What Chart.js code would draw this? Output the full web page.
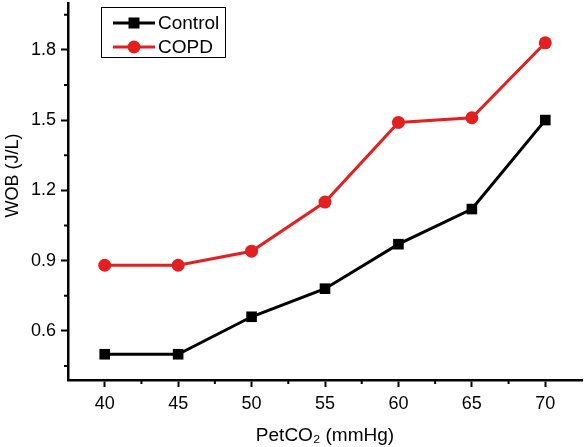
<!DOCTYPE html>
<html>
<head>
<meta charset="utf-8">
<script src="https://cdn.jsdelivr.net/npm/chart.js@4.4.1/dist/chart.umd.min.js"></script>
<style>
html,body{margin:0;padding:0;background:#fff;}
#wrap{width:586px;height:447px;}
</style>
</head>
<body>
<div id="wrap"><canvas id="c" width="586" height="447"></canvas></div>
<script>
const categories = [40, 45, 50, 55, 60, 65, 70];
const controlValues = [0.50, 0.50, 0.66, 0.78, 0.97, 1.12, 1.50];
const copdValues = [0.88, 0.88, 0.94, 1.15, 1.49, 1.51, 1.83];
const xTicks = [40, 45, 50, 55, 60, 65, 70];
const xMinorTicks = [42.5, 47.5, 52.5, 57.5, 62.5, 67.5];
const yTicks = [0.6, 0.9, 1.2, 1.5, 1.8];
const yMinorTicks = [0.45, 0.75, 1.05, 1.35, 1.65, 1.95];
const seriesNames = ['Control', 'COPD'];

const FONT = '"Liberation Sans", Arial, Helvetica, sans-serif';
const RED = '#e3201f';

const extras = {
  id: 'extras',
  afterDraw(chart) {
    const ctx = chart.ctx;
    const xs = chart.scales.x, ys = chart.scales.y;
    const a = chart.chartArea;
    ctx.save();
    ctx.strokeStyle = '#000';
    ctx.lineWidth = 2;
    ctx.beginPath();
    yMinorTicks.forEach(v => {
      const p = ys.getPixelForValue(v);
      ctx.moveTo(a.left, p); ctx.lineTo(a.left - 4, p);
    });
    xMinorTicks.forEach(v => {
      const p = xs.getPixelForValue(v);
      ctx.moveTo(p, a.bottom); ctx.lineTo(p, a.bottom + 4);
    });
    ctx.stroke();
    ctx.fillStyle = '#000';
    ctx.font = '18px ' + FONT;
    ctx.textAlign = 'center';
    ctx.textBaseline = 'middle';
    ctx.translate(13, (a.top + a.bottom) / 2 - 16);
    ctx.rotate(-Math.PI / 2);
    ctx.fillText('WOB (J/L)', 0, 0);
    ctx.restore();

    ctx.save();
    const bx = 101, by = 7, bw = 124, bh = 50;
    ctx.strokeStyle = '#000';
    ctx.lineWidth = 1;
    ctx.strokeRect(bx + 0.5, by + 0.5, bw, bh);
    chart.data.datasets.forEach((ds, i) => {
      const yy = by + 16 + i * 24;
      ctx.strokeStyle = ds.borderColor;
      ctx.lineWidth = 3;
      ctx.beginPath();
      ctx.moveTo(bx + 12, yy); ctx.lineTo(bx + 54, yy);
      ctx.stroke();
      ctx.fillStyle = ds.pointBackgroundColor;
      ctx.beginPath();
      if (ds.pointStyle === 'rect') {
        ctx.rect(bx + 33 - 5.5, yy - 5.5, 11, 11);
      } else {
        ctx.arc(bx + 33, yy, 6.5, 0, Math.PI * 2);
      }
      ctx.fill();
      ctx.fillStyle = '#000';
      ctx.font = '19px ' + FONT;
      ctx.textAlign = 'left';
      ctx.textBaseline = 'middle';
      ctx.fillText(ds.label, bx + 57, yy + 1);
    });
    ctx.restore();
  }
};

new Chart(document.getElementById('c'), {
  type: 'line',
  data: {
    datasets: [
      {
        label: seriesNames[0],
        data: categories.map((c, i) => ({x: c, y: controlValues[i]})),
        borderColor: '#000',
        backgroundColor: '#000',
        pointBackgroundColor: '#000',
        pointBorderColor: '#000',
        pointStyle: 'rect',
        pointRadius: 7.5,
        pointBorderWidth: 0,
        borderWidth: 3,
        tension: 0
      },
      {
        label: seriesNames[1],
        data: categories.map((c, i) => ({x: c, y: copdValues[i]})),
        borderColor: RED,
        backgroundColor: RED,
        pointBackgroundColor: RED,
        pointBorderColor: RED,
        pointStyle: 'circle',
        pointRadius: 6.5,
        pointBorderWidth: 0,
        borderWidth: 3,
        tension: 0
      }
    ]
  },
  options: {
    responsive: false,
    animation: false,
    devicePixelRatio: 1,
    layout: {autoPadding: false, padding: {left: 0, right: 4, top: 3, bottom: 0}},
    plugins: {legend: {display: false}, tooltip: {enabled: false}},
    scales: {
      x: {
        type: 'linear',
        min: 37.5,
        max: 72.5,
        afterBuildTicks: s => { s.ticks = xTicks.map(v => ({value: v})); },
        afterFit: s => { s.height = 67; s.paddingLeft = 0; s.paddingRight = 0; },
        border: {display: true, color: '#000', width: 2.5},
        grid: {display: true, drawOnChartArea: false, drawTicks: true, tickLength: 7, tickWidth: 2, tickColor: '#000'},
        ticks: {color: '#000', font: {size: 18, family: FONT}, padding: 6, maxRotation: 0, autoSkip: false},
        title: {display: true, text: 'PetCO₂ (mmHg)', color: '#000', font: {size: 19, family: FONT}, padding: {top: 3, bottom: 0}}
      },
      y: {
        min: 0.39,
        max: 2.0,
        afterBuildTicks: s => { s.ticks = yTicks.map(v => ({value: v})); },
        afterFit: s => { s.width = 68; s.paddingTop = 0; s.paddingBottom = 0; },
        border: {display: true, color: '#000', width: 2.5},
        grid: {display: true, drawOnChartArea: false, drawTicks: true, tickLength: 7, tickWidth: 2, tickColor: '#000'},
        ticks: {color: '#000', font: {size: 18, family: FONT}, padding: 5, callback: v => v.toFixed(1)}
      }
    }
  },
  plugins: [extras]
});
</script>
</body>
</html>
